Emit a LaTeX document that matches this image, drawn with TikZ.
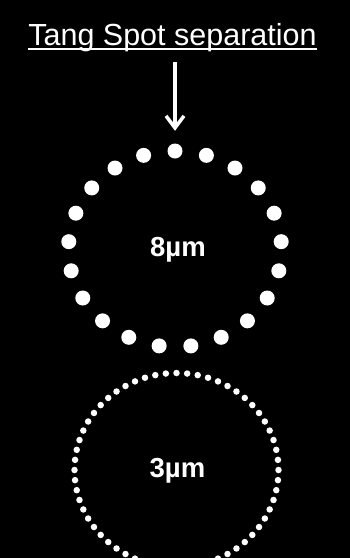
\documentclass[tikz,border=0pt]{standalone}
\usepackage{fontspec}
\setmainfont{Liberation Sans}
\usetikzlibrary{arrows.meta}

\begin{document}
\begin{tikzpicture}[
    x=1pt, y=-1pt,
    title/.style={text=white, inner sep=0pt, anchor=base, font=\fontsize{30.5}{36}\selectfont},
    size/.style={text=white, inner sep=0pt, anchor=base, font=\bfseries\fontsize{27.5}{33}\selectfont},
    bigdot/.style={circle, fill=white, inner sep=0pt, minimum size=15pt},
    smalldot/.style={circle, fill=white, inner sep=0pt, minimum size=6.5pt},
    >={Straight Barb[length=12pt,width=18pt]}
]
\fill[black] (0,0) rectangle (350,558);
\useasboundingbox (0,0) rectangle (350,558);

\node[title] (title) at (172.5,45) {Tang Spot separation};
\draw[white, line width=2pt] ([yshift=-4pt]title.base west) -- ([yshift=-4pt]title.base east);

\foreach \i in {0,...,20}
  \node[bigdot] (big-\i) at ({175+106.5*cos(90-\i*360/21)},{249-98*sin(90-\i*360/21)}) {};
\foreach \i in {0,...,59}
  \node[smalldot] (small-\i) at ({176.5+102*cos(90-\i*6)},{470-97*sin(90-\i*6)}) {};

\node[size] (big) at (178,256) {8µm};
\node[size] (small) at (177.5,477) {3µm};

\coordinate (tail) at (175,62);
\draw[->, white, line width=3.5pt, shorten >=12.5pt] (tail) -- (big-0.north);
\end{tikzpicture}
\end{document}
